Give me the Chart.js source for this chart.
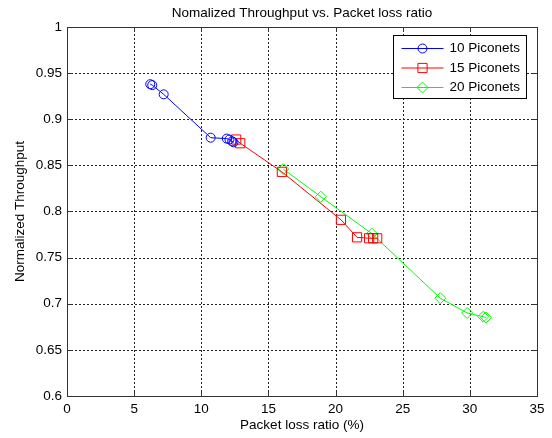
<!DOCTYPE html>
<html>
<head>
<meta charset="utf-8">
<script src="https://cdn.jsdelivr.net/npm/chart.js@4/dist/chart.umd.min.js"></script>
<style>
  html, body { margin: 0; padding: 0; background: #fff; }
  #wrap { width: 552px; height: 438px; }
</style>
</head>
<body>
<div id="wrap"><canvas id="plot"></canvas></div>
<script>
// values
const seriesLabels = ['10 Piconets', '15 Piconets', '20 Piconets'];
const blueX = [6.2, 6.35, 7.2, 10.7, 11.9, 12.1, 12.3, 12.4];
const blueY = [0.938, 0.937, 0.927, 0.880, 0.879, 0.878, 0.876, 0.875];
const redX = [12.6, 12.9, 16.0, 20.4, 21.6, 22.5, 22.8, 23.1];
const redY = [0.878, 0.874, 0.843, 0.791, 0.772, 0.771, 0.771, 0.771];
const greenX = [16.1, 18.9, 22.7, 27.8, 29.8, 31.0, 31.2];
const greenY = [0.846, 0.816, 0.776, 0.706, 0.690, 0.686, 0.685];
const xTicks = [0, 5, 10, 15, 20, 25, 30, 35];
const yTicks = [0.6, 0.65, 0.7, 0.75, 0.8, 0.85, 0.9, 0.95, 1];

const FONT = 'Liberation Sans, Arial, sans-serif';
const FS = 13.5;
const pts = (xs, ys) => xs.map((x, i) => ({ x: x, y: ys[i] }));

// dotted grid, drawn under the lines
const dottedGrid = {
  id: 'dottedGrid',
  beforeDatasetsDraw(chart) {
    const { ctx, chartArea: a, scales } = chart;
    ctx.save();
    ctx.strokeStyle = '#222';
    ctx.lineWidth = 1;
    ctx.setLineDash([2, 2]);
    ctx.beginPath();
    xTicks.slice(1, -1).forEach(v => {
      const x = Math.round(scales.x.getPixelForValue(v)) + 0.5;
      ctx.moveTo(x, a.bottom); ctx.lineTo(x, a.top);
    });
    yTicks.slice(1, -1).forEach(v => {
      const y = Math.round(scales.y.getPixelForValue(v)) + 0.5;
      ctx.moveTo(a.left, y); ctx.lineTo(a.right, y);
    });
    ctx.stroke();
    ctx.restore();
  }
};

// matlab style box, inward ticks and legend
const matlabBox = {
  id: 'matlabBox',
  afterDraw(chart) {
    const { ctx, chartArea: a, scales } = chart;
    ctx.save();
    ctx.strokeStyle = '#333';
    ctx.lineWidth = 1;
    ctx.setLineDash([]);
    ctx.strokeRect(Math.round(a.left) + 0.5, Math.round(a.top) + 0.5,
      Math.round(a.right - a.left), Math.round(a.bottom - a.top));
    ctx.beginPath();
    xTicks.forEach(v => {
      const x = Math.round(scales.x.getPixelForValue(v)) + 0.5;
      ctx.moveTo(x, a.bottom); ctx.lineTo(x, a.bottom - 5);
      ctx.moveTo(x, a.top); ctx.lineTo(x, a.top + 5);
    });
    yTicks.forEach(v => {
      const y = Math.round(scales.y.getPixelForValue(v)) + 0.5;
      ctx.moveTo(a.left, y); ctx.lineTo(a.left + 5, y);
      ctx.moveTo(a.right, y); ctx.lineTo(a.right - 5, y);
    });
    ctx.stroke();

    // legend
    const lx = 393.5, ly = 35.5, lw = 133, lh = 63;
    ctx.fillStyle = '#fff';
    ctx.fillRect(lx, ly, lw, lh);
    ctx.strokeStyle = '#000';
    ctx.strokeRect(lx, ly, lw, lh);
    ctx.font = FS + 'px ' + FONT;
    ctx.textBaseline = 'middle';
    ctx.textAlign = 'left';
    chart.data.datasets.forEach((ds, i) => {
      const y = ly + 13 + i * 19.5;
      ctx.strokeStyle = ds.borderColor;
      ctx.lineWidth = 1;
      ctx.beginPath();
      ctx.moveTo(lx + 8, y); ctx.lineTo(lx + 50, y);
      ctx.stroke();
      ctx.fillStyle = 'rgba(0,0,0,0)';
      Chart.helpers.drawPoint(ctx, {
        pointStyle: ds.pointStyle, radius: ds.pointRadius, borderWidth: 1, rotation: 0
      }, lx + 29, y);
      ctx.fillStyle = '#000';
      ctx.fillText(ds.label, lx + 56, y);
    });
    ctx.restore();
  }
};

function makeSet(i, xs, ys, color, style, r) {
  return {
    label: seriesLabels[i],
    data: pts(xs, ys),
    borderColor: color,
    backgroundColor: 'rgba(0,0,0,0)',
    borderWidth: 1,
    pointStyle: style,
    pointRadius: r,
    pointHoverRadius: r,
    pointBorderWidth: 1,
    pointBorderColor: color,
    pointBackgroundColor: 'rgba(0,0,0,0)',
    tension: 0,
    fill: false
  };
}

new Chart(document.getElementById('plot'), {
  type: 'line',
  data: {
    datasets: [
      makeSet(0, blueX, blueY, '#0000ff', 'circle', 4.5),
      makeSet(1, redX, redY, '#ff0000', 'rect', 6.5),
      makeSet(2, greenX, greenY, '#00ff00', 'rectRot', 5.5)
    ]
  },
  options: {
    responsive: true,
    maintainAspectRatio: false,
    animation: false,
    layout: { padding: { left: 0, right: 15, top: 0, bottom: 0 } },
    plugins: {
      legend: { display: false },
      tooltip: { enabled: false },
      title: {
        display: true,
        fullSize: false,
        text: 'Nomalized Throughput vs. Packet loss ratio',
        color: '#000',
        font: { family: FONT, size: FS, weight: 'normal', lineHeight: 1.2 },
        padding: { top: 5, bottom: 5.8 }
      }
    },
    scales: {
      x: {
        type: 'linear',
        min: 0,
        max: 35,
        afterBuildTicks: s => { s.ticks = xTicks.map(v => ({ value: v })); },
        afterFit: s => { s.height = 42; },
        ticks: {
          color: '#000',
          padding: 5,
          maxRotation: 0,
          font: { family: FONT, size: FS }
        },
        grid: { display: false, drawTicks: false },
        border: { display: false },
        title: {
          display: true,
          text: 'Packet loss ratio (%)',
          color: '#000',
          font: { family: FONT, size: FS },
          padding: { top: 0, bottom: 5 }
        }
      },
      y: {
        min: 0.6,
        max: 1,
        afterBuildTicks: s => { s.ticks = yTicks.map(v => ({ value: v })); },
        afterFit: s => { s.width = 67; },
        ticks: {
          color: '#000',
          padding: 5,
          font: { family: FONT, size: FS },
          callback: v => String(+v.toFixed(2))
        },
        grid: { display: false, drawTicks: false },
        border: { display: false },
        title: {
          display: true,
          text: 'Normalized Throughput',
          color: '#000',
          font: { family: FONT, size: FS },
          padding: { top: 12, bottom: 0 }
        }
      }
    }
  },
  plugins: [dottedGrid, matlabBox]
});
</script>
</body>
</html>
